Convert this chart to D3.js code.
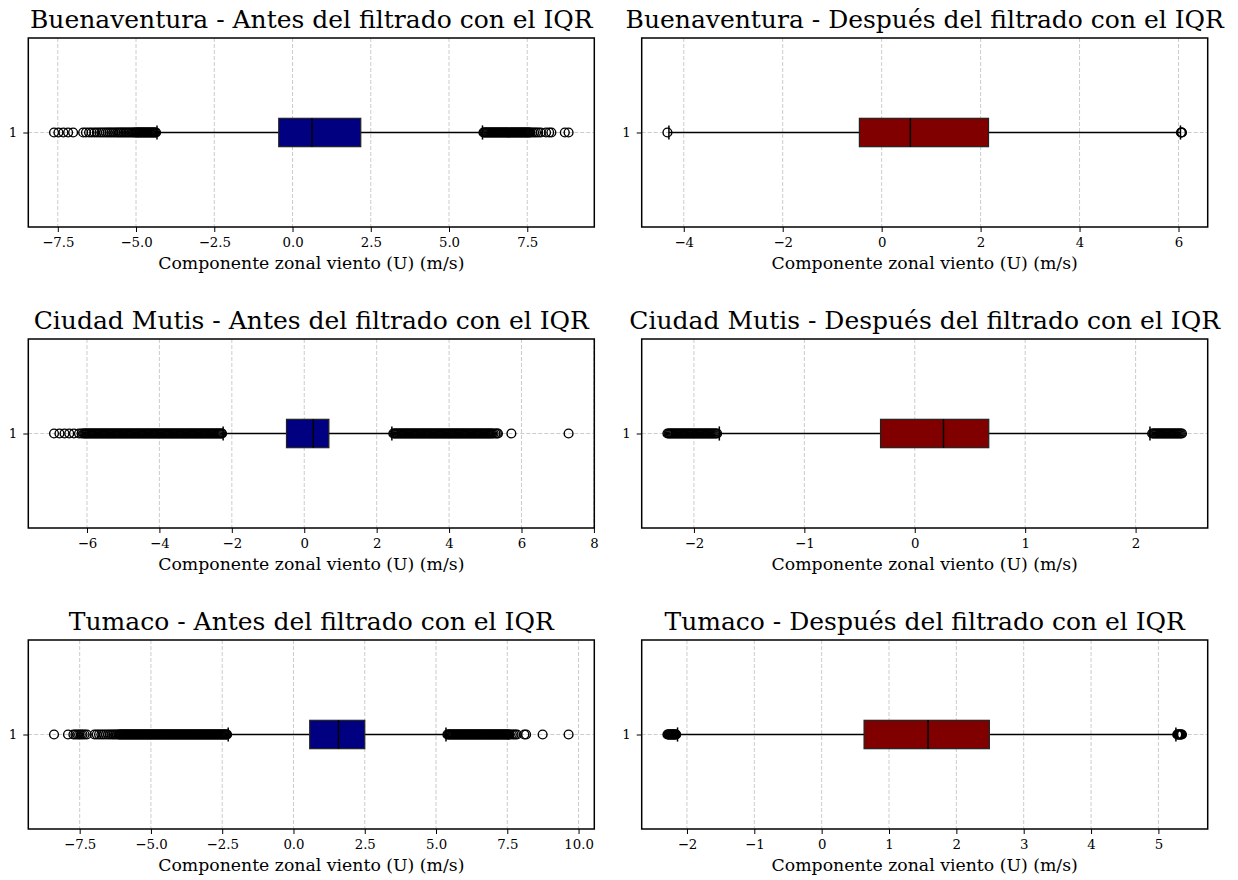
<!DOCTYPE html>
<html>
<head>
<meta charset="utf-8">
<script src="https://cdn.jsdelivr.net/npm/d3@7"></script>
<style>
  body { margin: 0; background: #ffffff; }
  svg { display: block; font-family: 'DejaVu Serif', serif; }
</style>
</head>
<body>
<div id="chart_container"></div>
<script>

// titles, one per panel (row by row: antes | despues)
var panel_titles = [
  'Buenaventura - Antes del filtrado con el IQR',
  'Buenaventura - Después del filtrado con el IQR',
  'Ciudad Mutis - Antes del filtrado con el IQR',
  'Ciudad Mutis - Después del filtrado con el IQR',
  'Tumaco - Antes del filtrado con el IQR',
  'Tumaco - Después del filtrado con el IQR'
]
var panel_kind = ['antes', 'despues', 'antes', 'despues', 'antes', 'despues']

var x_label = 'Componente zonal viento (U) (m/s)'

// box statistics
var q1 = [-0.44, -0.45, -0.49, -0.31, 0.57, 0.63]
var medians = [0.62, 0.58, 0.25, 0.26, 1.58, 1.58]
var q3 = [2.18, 2.16, 0.68, 0.67, 2.50, 2.49]
var whisker_low = [-4.33, -4.30, -2.24, -1.77, -2.29, -2.14]
var whisker_high = [6.07, 6.04, 2.42, 2.13, 5.35, 5.26]

// x tick values
var x_ticks = [
  [-7.5, -5, -2.5, 0, 2.5, 5, 7.5],
  [-4, -2, 0, 2, 4, 6],
  [-6, -4, -2, 0, 2, 4, 6, 8],
  [-2, -1, 0, 1, 2],
  [-7.5, -5, -2.5, 0, 2.5, 5, 7.5, 10],
  [-2, -1, 0, 1, 2, 3, 4, 5]
]
var x_tick_format = ['.1f', 'd', 'd', 'd', '.1f', 'd']

// outliers (fliers); the dense runs are where the picture turns solid black
var outliers_buenaventura_antes = [
  -7.62, -7.48, -7.32, -7.17, -7.01,
  -6.69, -6.60, -6.50, -6.42, -6.33, -6.25, -6.17, -6.10, -6.03, -5.96, -5.90, -5.84, -5.78, -5.72, -5.66,
  -5.60, -5.55, -5.50, -5.45, -5.40, -5.35, -5.30, -5.25, -5.20, -5.15, -5.10, -5.06,
  -5.02, -4.99, -4.96, -4.93, -4.90, -4.87, -4.84, -4.81, -4.78, -4.75, -4.72, -4.69,
  -4.66, -4.63, -4.60, -4.57, -4.54, -4.51, -4.48, -4.45, -4.42, -4.39, -4.36,
  6.10, 6.13, 6.16, 6.19, 6.22, 6.25, 6.28, 6.31, 6.34, 6.37, 6.40, 6.43, 6.46, 6.49,
  6.52, 6.55, 6.58, 6.61, 6.64, 6.67, 6.70, 6.73, 6.76, 6.79, 6.82, 6.85, 6.88, 6.91,
  6.94, 6.97, 7.00, 7.03, 7.06, 7.09, 7.12, 7.15, 7.18, 7.21, 7.24, 7.27, 7.30, 7.33,
  7.36, 7.39, 7.42, 7.45, 7.48, 7.51, 7.54, 7.57, 7.60,
  7.66, 7.72, 7.78, 7.85, 7.93, 8.10, 8.20, 8.27, 8.70, 8.82
]
var outliers_buenaventura_despues = [-4.33, 6.05, 6.06, 6.07]

var outliers_mutis_antes = [
  -6.91, -6.76, -6.62, -6.49, -6.36, -6.22, -6.15,
  -6.10, -6.07, -6.04, -6.01, -5.98, -5.95, -5.92, -5.89, -5.86, -5.83,
  -5.80, -5.77, -5.74, -5.71, -5.68, -5.65, -5.62, -5.59, -5.56, -5.53,
  -5.50, -5.47, -5.44, -5.41, -5.38, -5.35, -5.32, -5.29, -5.26, -5.23,
  -5.20, -5.17, -5.14, -5.11, -5.08, -5.05, -5.02, -4.99, -4.96, -4.93,
  -4.90, -4.87, -4.84, -4.81, -4.78, -4.75, -4.72, -4.69, -4.66, -4.63,
  -4.60, -4.57, -4.54, -4.51, -4.48, -4.45, -4.42, -4.39, -4.36, -4.33,
  -4.30, -4.27, -4.24, -4.21, -4.18, -4.15, -4.12, -4.09, -4.06, -4.03,
  -4.00, -3.97, -3.94, -3.91, -3.88, -3.85, -3.82, -3.79, -3.76, -3.73,
  -3.70, -3.67, -3.64, -3.61, -3.58, -3.55, -3.52, -3.49, -3.46, -3.43,
  -3.40, -3.37, -3.34, -3.31, -3.28, -3.25, -3.22, -3.19, -3.16, -3.13,
  -3.10, -3.07, -3.04, -3.01, -2.98, -2.95, -2.92, -2.89, -2.86, -2.83,
  -2.80, -2.77, -2.74, -2.71, -2.68, -2.65, -2.62, -2.59, -2.56, -2.53,
  -2.50, -2.47, -2.44, -2.41, -2.38, -2.35, -2.32, -2.29, -2.27,
  2.46, 2.49, 2.52, 2.55, 2.58, 2.61, 2.64, 2.67, 2.70, 2.73,
  2.76, 2.79, 2.82, 2.85, 2.88, 2.91, 2.94, 2.97, 3.00, 3.03,
  3.06, 3.09, 3.12, 3.15, 3.18, 3.21, 3.24, 3.27, 3.30, 3.33,
  3.36, 3.39, 3.42, 3.45, 3.48, 3.51, 3.54, 3.57, 3.60, 3.63,
  3.66, 3.69, 3.72, 3.75, 3.78, 3.81, 3.84, 3.87, 3.90, 3.93,
  3.96, 3.99, 4.02, 4.05, 4.08, 4.11, 4.14, 4.17, 4.20, 4.23,
  4.26, 4.29, 4.32, 4.35, 4.38, 4.41, 4.44, 4.47, 4.50, 4.53,
  4.56, 4.59, 4.62, 4.65, 4.68, 4.71, 4.74, 4.77, 4.80, 4.83,
  4.86, 4.89, 4.92, 4.95, 4.98, 5.01, 5.04, 5.07, 5.10, 5.13,
  5.16, 5.19, 5.23, 5.28, 5.32, 5.35, 5.72, 7.30
]
var outliers_mutis_despues = [
  -2.24, -2.23, -2.22, -2.21, -2.20, -2.19, -2.18, -2.17, -2.16, -2.15,
  -2.14, -2.13, -2.12, -2.11, -2.10, -2.09, -2.08, -2.07, -2.06, -2.05,
  -2.04, -2.03, -2.02, -2.01, -2.00, -1.99, -1.98, -1.97, -1.96, -1.95,
  -1.94, -1.93, -1.92, -1.91, -1.90, -1.89, -1.88, -1.87, -1.86, -1.85,
  -1.84, -1.83, -1.82, -1.81, -1.80, -1.79,
  2.15, 2.16, 2.17, 2.18, 2.19, 2.20, 2.21, 2.22, 2.23, 2.24,
  2.25, 2.26, 2.27, 2.28, 2.29, 2.30, 2.31, 2.32, 2.33, 2.34,
  2.35, 2.36, 2.37, 2.38, 2.39, 2.40, 2.41, 2.42
]

var outliers_tumaco_antes = [
  -8.40, -7.91, -7.72, -7.65, -7.58, -7.52, -7.46, -7.40, -7.33, -7.25,
  -6.98, -6.90, -6.82, -6.74, -6.66, -6.58, -6.50, -6.43, -6.36, -6.30, -6.24, -6.18,
  -6.13, -6.10, -6.07, -6.04, -6.01, -5.98, -5.95, -5.92, -5.89, -5.86, -5.83,
  -5.80, -5.77, -5.74, -5.71, -5.68, -5.65, -5.62, -5.59, -5.56, -5.53,
  -5.50, -5.47, -5.44, -5.41, -5.38, -5.35, -5.32, -5.29, -5.26, -5.23,
  -5.20, -5.17, -5.14, -5.11, -5.08, -5.05, -5.02, -4.99, -4.96, -4.93,
  -4.90, -4.87, -4.84, -4.81, -4.78, -4.75, -4.72, -4.69, -4.66, -4.63,
  -4.60, -4.57, -4.54, -4.51, -4.48, -4.45, -4.42, -4.39, -4.36, -4.33,
  -4.30, -4.27, -4.24, -4.21, -4.18, -4.15, -4.12, -4.09, -4.06, -4.03,
  -4.00, -3.97, -3.94, -3.91, -3.88, -3.85, -3.82, -3.79, -3.76, -3.73,
  -3.70, -3.67, -3.64, -3.61, -3.58, -3.55, -3.52, -3.49, -3.46, -3.43,
  -3.40, -3.37, -3.34, -3.31, -3.28, -3.25, -3.22, -3.19, -3.16, -3.13,
  -3.10, -3.07, -3.04, -3.01, -2.98, -2.95, -2.92, -2.89, -2.86, -2.83,
  -2.80, -2.77, -2.74, -2.71, -2.68, -2.65, -2.62, -2.59, -2.56, -2.53,
  -2.50, -2.47, -2.44, -2.41, -2.38, -2.35, -2.33,
  5.40, 5.43, 5.46, 5.49, 5.52, 5.55, 5.58, 5.61, 5.64, 5.67,
  5.70, 5.73, 5.76, 5.79, 5.82, 5.85, 5.88, 5.91, 5.94, 5.97,
  6.00, 6.03, 6.06, 6.09, 6.12, 6.15, 6.18, 6.21, 6.24, 6.27,
  6.30, 6.33, 6.36, 6.39, 6.42, 6.45, 6.48, 6.51, 6.54, 6.57,
  6.60, 6.63, 6.66, 6.69, 6.72, 6.75, 6.78, 6.81, 6.84, 6.87,
  6.90, 6.93, 6.96, 6.99, 7.02, 7.05, 7.08, 7.11, 7.14, 7.17,
  7.20, 7.23, 7.26, 7.29, 7.32, 7.35, 7.38, 7.41, 7.44, 7.47,
  7.50, 7.53, 7.56, 7.59,
  7.66, 7.72, 7.78, 7.84, 8.10, 8.16, 8.74, 9.65
]
var outliers_tumaco_despues = [
  -2.29, -2.28, -2.27, -2.26, -2.25, -2.24, -2.23, -2.22, -2.21, -2.20,
  -2.19, -2.18, -2.17, -2.16,
  5.28, 5.29, 5.30, 5.31, 5.32, 5.33, 5.34, 5.35
]

var outliers = [
  outliers_buenaventura_antes, outliers_buenaventura_despues,
  outliers_mutis_antes, outliers_mutis_despues,
  outliers_tumaco_antes, outliers_tumaco_despues
]

var box_colors = { antes: '#000080', despues: '#800000' }

// layout
var fig_width = 1238
var fig_height = 880
var col_left = [28.3, 641.7]
var row_top = [38, 339, 640]
var ax_width = 566
var ax_height = 189

var svg = d3.select('div#chart_container').append('svg')
  .attr('width', fig_width)
  .attr('height', fig_height)

svg.append('rect')
  .attr('width', fig_width)
  .attr('height', fig_height)
  .attr('fill', '#ffffff')

panel_titles.forEach(function(title, i) {

  var left = col_left[i % 2]
  var top = row_top[Math.floor(i / 2)]

  // matplotlib style auto limits: data range plus 5% each side
  var all_values = outliers[i].concat([whisker_low[i], whisker_high[i]])
  var ext = d3.extent(all_values)
  var pad = (ext[1] - ext[0]) * 0.05

  var x = d3.scaleLinear()
    .domain([ext[0] - pad, ext[1] + pad])
    .range([left, left + ax_width])

  var y = d3.scaleLinear()
    .domain([0.5, 1.5])
    .range([top + ax_height, top])

  var g = svg.append('g').attr('class', 'panel')

  // grid
  g.selectAll('line.vgrid')
    .data(x_ticks[i])
    .enter().append('line')
    .attr('class', 'vgrid')
    .attr('x1', function(d) { return x(d) })
    .attr('x2', function(d) { return x(d) })
    .attr('y1', top)
    .attr('y2', top + ax_height)
    .attr('stroke', '#cccccc')
    .attr('stroke-width', 1)
    .attr('stroke-dasharray', '4,2')

  g.append('line')
    .attr('x1', left)
    .attr('x2', left + ax_width)
    .attr('y1', y(1))
    .attr('y2', y(1))
    .attr('stroke', '#cccccc')
    .attr('stroke-width', 1)
    .attr('stroke-dasharray', '4,2')

  var box_half = (y(1) - y(1.075))
  var cap_half = (y(1) - y(1.0375))

  // whiskers
  ;[[whisker_low[i], q1[i]], [q3[i], whisker_high[i]]].forEach(function(w) {
    g.append('line')
      .attr('x1', x(w[0]))
      .attr('x2', x(w[1]))
      .attr('y1', y(1))
      .attr('y2', y(1))
      .attr('stroke', '#000000')
      .attr('stroke-width', 1.5)
  })

  // caps
  ;[whisker_low[i], whisker_high[i]].forEach(function(v) {
    g.append('line')
      .attr('x1', x(v))
      .attr('x2', x(v))
      .attr('y1', y(1) - cap_half)
      .attr('y2', y(1) + cap_half)
      .attr('stroke', '#000000')
      .attr('stroke-width', 1.5)
  })

  // box
  g.append('rect')
    .attr('x', x(q1[i]))
    .attr('y', y(1) - box_half)
    .attr('width', x(q3[i]) - x(q1[i]))
    .attr('height', box_half * 2)
    .attr('fill', box_colors[panel_kind[i]])
    .attr('stroke', '#222222')
    .attr('stroke-width', 1.2)

  // median
  g.append('line')
    .attr('x1', x(medians[i]))
    .attr('x2', x(medians[i]))
    .attr('y1', y(1) - box_half)
    .attr('y2', y(1) + box_half)
    .attr('stroke', '#000000')
    .attr('stroke-width', 1.5)

  // fliers
  g.selectAll('circle.flier')
    .data(outliers[i])
    .enter().append('circle')
    .attr('class', 'flier')
    .attr('cx', function(d) { return x(d) })
    .attr('cy', y(1))
    .attr('r', 4.4)
    .attr('fill', 'none')
    .attr('stroke', '#000000')
    .attr('stroke-width', 1.4)

  // frame
  g.append('rect')
    .attr('x', left)
    .attr('y', top)
    .attr('width', ax_width)
    .attr('height', ax_height)
    .attr('fill', 'none')
    .attr('stroke', '#000000')
    .attr('stroke-width', 1.5)

  // axes
  var x_axis = g.append('g')
    .attr('transform', 'translate(0,' + (top + ax_height) + ')')
    .call(d3.axisBottom(x)
      .tickValues(x_ticks[i])
      .tickFormat(d3.format(x_tick_format[i]))
      .tickSize(5)
      .tickPadding(5.5))
  x_axis.select('.domain').remove()

  var y_axis = g.append('g')
    .attr('transform', 'translate(' + left + ',0)')
    .call(d3.axisLeft(y)
      .tickValues([1])
      .tickFormat(d3.format('d'))
      .tickSize(5)
      .tickPadding(6))
  y_axis.select('.domain').remove()

  ;[x_axis, y_axis].forEach(function(a) {
    a.attr('font-family', "'DejaVu Serif', serif")
      .attr('font-size', 13.3)
    a.selectAll('.tick line').attr('stroke', '#000000').attr('stroke-width', 1)
    a.selectAll('.tick text').attr('fill', '#000000')
  })

  // labels
  g.append('text')
    .attr('x', left + ax_width / 2)
    .attr('y', top - 10)
    .attr('text-anchor', 'middle')
    .style('font-size', '25px')
    .attr('fill', '#000000')
    .text(title)

  g.append('text')
    .attr('x', left + ax_width / 2)
    .attr('y', top + ax_height + 42)
    .attr('text-anchor', 'middle')
    .style('font-size', '17.3px')
    .attr('fill', '#000000')
    .text(x_label)

})

</script>
</body>
</html>
